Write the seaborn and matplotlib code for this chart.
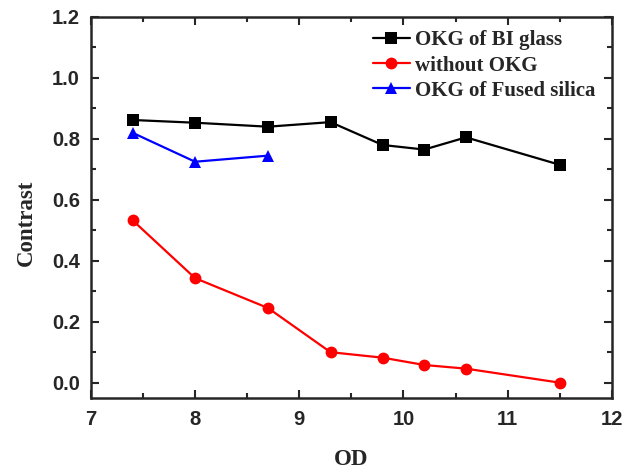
import pandas as pd
import seaborn as sns
import matplotlib.pyplot as plt
from matplotlib.ticker import MultipleLocator

# data
od_bi = [7.4, 8.0, 8.7, 9.3, 9.8, 10.2, 10.6, 11.5]
contrast_bi = [0.862, 0.853, 0.840, 0.855, 0.780, 0.765, 0.805, 0.715]
od_none = [7.4, 8.0, 8.7, 9.3, 9.8, 10.2, 10.6, 11.5]
contrast_none = [0.533, 0.343, 0.245, 0.100, 0.082, 0.058, 0.046, 0.0]
od_fs = [7.4, 8.0, 8.7]
contrast_fs = [0.820, 0.725, 0.745]
names = ["OKG of BI glass", "without OKG", "OKG of Fused silica"]

df = pd.concat([
    pd.DataFrame({"OD": od_bi, "Contrast": contrast_bi, "series": names[0]}),
    pd.DataFrame({"OD": od_none, "Contrast": contrast_none, "series": names[1]}),
    pd.DataFrame({"OD": od_fs, "Contrast": contrast_fs, "series": names[2]}),
])

sns.set_style("ticks")
fig = plt.figure(figsize=(6.4, 4.72), dpi=100)
ax = fig.add_axes([0.142, 0.157, 0.814, 0.807])

sns.lineplot(data=df, x="OD", y="Contrast", hue="series", style="series",
             hue_order=names, style_order=names,
             palette=["black", "red", "blue"],
             markers=["s", "o", "^"], dashes=False,
             markersize=8.5, linewidth=1.6, markeredgewidth=0,
             ax=ax)

ax.set_xlim(7, 12)
ax.set_ylim(-0.05, 1.2)
ax.xaxis.set_major_locator(MultipleLocator(1))
ax.xaxis.set_minor_locator(MultipleLocator(0.5))
ax.yaxis.set_major_locator(MultipleLocator(0.2))
ax.yaxis.set_minor_locator(MultipleLocator(0.1))
ax.tick_params(which="both", direction="in", top=True, right=True, width=1.5)
ax.tick_params(which="major", length=6, labelsize=14.5)
ax.tick_params(axis="y", which="major", pad=8)
ax.tick_params(axis="x", which="major", pad=9)
ax.tick_params(which="minor", length=3.5)
for lab in ax.get_xticklabels() + ax.get_yticklabels():
    lab.set_fontfamily("Liberation Sans")
    lab.set_fontweight("bold")
for sp in ax.spines.values():
    sp.set_linewidth(1.8)

ax.set_xlabel("OD", fontfamily="Liberation Serif", fontweight="bold", fontsize=16.5, labelpad=14)
ax.set_ylabel("Contrast", fontfamily="Liberation Serif", fontweight="bold", fontsize=16.5, labelpad=11)
ax.yaxis.label.set_y(0.46)

leg = ax.legend(loc="upper left", bbox_to_anchor=(0.541, 0.965), frameon=False,
                handlelength=1.8, handletextpad=0.25, labelspacing=0.25,
                borderaxespad=0, borderpad=0,
                prop={"family": "Liberation Serif", "weight": "bold", "size": 15})

fig.savefig("out.png", dpi=100)
